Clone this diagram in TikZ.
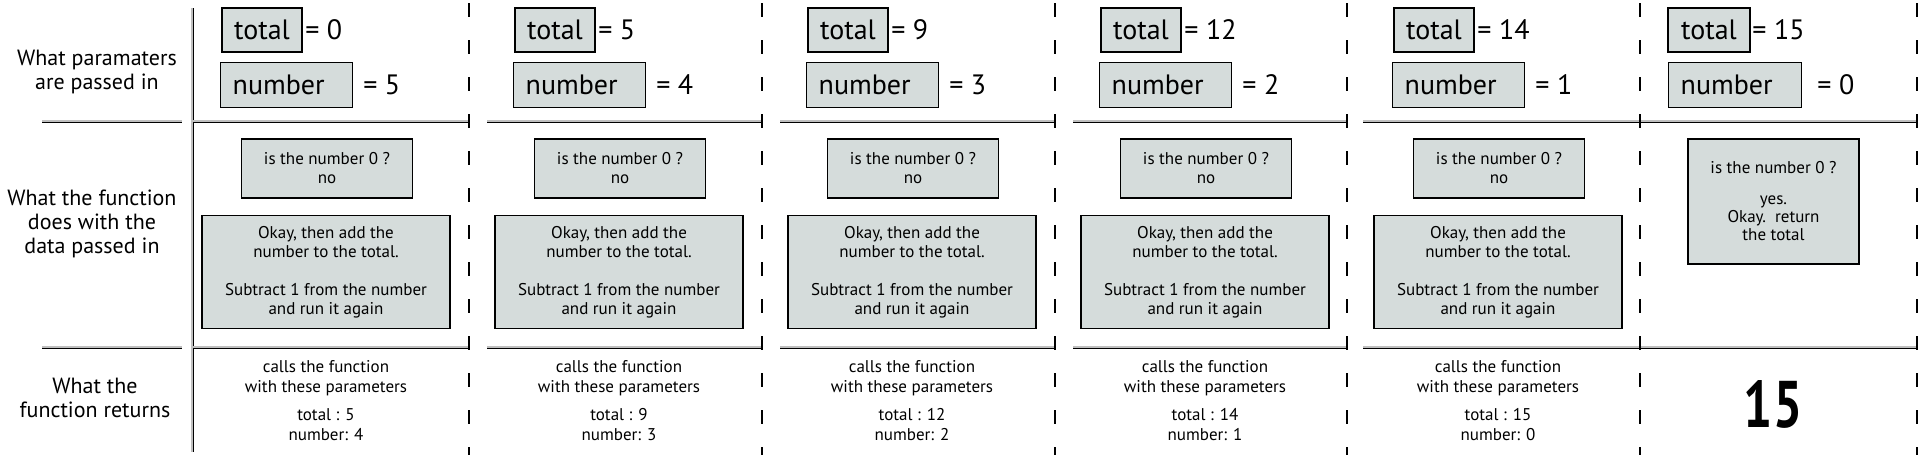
\documentclass[tikz,border=0pt]{standalone}
\usepackage{fontspec}
\setmainfont{PT Sans}
\usepackage[dvipsnames]{xcolor}
\definecolor{boxgray}{RGB}{213,220,219}

\begin{document}
\begin{tikzpicture}[x=1pt,y=-1pt,thick,
    row rule/.style={line width=0.7pt,double=gray!50,double distance=1.6pt},
    col sep/.style={line width=2.2pt,dash pattern=on 14pt off 23pt},
    row label/.style={align=center,font=\fontsize{22}{24}\selectfont},
    param box/.style={draw,line width=1.4pt,fill=boxgray,minimum height=44pt,inner xsep=10pt,font=\fontsize{28}{30}\selectfont},
    param value/.style={anchor=west,inner sep=3pt,font=\fontsize{28}{30}\selectfont},
    check box/.style={draw,line width=1.4pt,fill=boxgray,align=center,minimum width=171pt,minimum height=59pt,font=\fontsize{17}{19}\selectfont},
    work box/.style={draw,line width=1.4pt,fill=boxgray,align=center,minimum width=248pt,minimum height=113pt,font=\fontsize{17}{19}\selectfont},
    call text/.style={align=center,font=\fontsize{17}{20}\selectfont}]
                \useasboundingbox (0,0) rectangle (1920,455);

                % row labels
                \node[row label] (l1) at (97,72) {What paramaters\\are passed in};
                \node[row label] (l2) at (92,224) {What the function\\does with the\\data passed in};
                \node[row label] (l3) at (95,398) {What the\\function returns};

                % column 1
                \node[param box,minimum width=80pt] (t1) at (262,30) {total};
                \node[param value] (tv1) at (302,30) {= 0};
                \node[param box,anchor=west,text width=108pt,inner xsep=12pt,minimum height=45pt] (n1) at (220,85) {number};
                \node[param value] (nv1) at (360,85) {= 5};
                \node[check box] (q1) at (327,168.5) {is the number 0 ?\\no};
                \node[work box] (w1) at (326,272) {Okay, then add the\\number to the total.\\[19pt]Subtract 1 from the number\\and run it again};
                \node[call text] (c1) at (326,401) {calls the function\\with these parameters\\[8pt]total : 5\\number: 4};

                % column 2
                \node[param box,minimum width=80pt] (t2) at (555,30) {total};
                \node[param value] (tv2) at (595,30) {= 5};
                \node[param box,anchor=west,text width=108pt,inner xsep=12pt,minimum height=45pt] (n2) at (513,85) {number};
                \node[param value] (nv2) at (653,85) {= 4};
                \node[check box] (q2) at (620,168.5) {is the number 0 ?\\no};
                \node[work box] (w2) at (619,272) {Okay, then add the\\number to the total.\\[19pt]Subtract 1 from the number\\and run it again};
                \node[call text] (c2) at (619,401) {calls the function\\with these parameters\\[8pt]total : 9\\number: 3};

                % column 3
                \node[param box,minimum width=80pt] (t3) at (848,30) {total};
                \node[param value] (tv3) at (888,30) {= 9};
                \node[param box,anchor=west,text width=108pt,inner xsep=12pt,minimum height=45pt] (n3) at (806,85) {number};
                \node[param value] (nv3) at (946,85) {= 3};
                \node[check box] (q3) at (913,168.5) {is the number 0 ?\\no};
                \node[work box] (w3) at (912,272) {Okay, then add the\\number to the total.\\[19pt]Subtract 1 from the number\\and run it again};
                \node[call text] (c3) at (912,401) {calls the function\\with these parameters\\[8pt]total : 12\\number: 2};

                % column 4
                \node[param box,minimum width=80pt] (t4) at (1141,30) {total};
                \node[param value] (tv4) at (1181,30) {= 12};
                \node[param box,anchor=west,text width=108pt,inner xsep=12pt,minimum height=45pt] (n4) at (1099,85) {number};
                \node[param value] (nv4) at (1239,85) {= 2};
                \node[check box] (q4) at (1206,168.5) {is the number 0 ?\\no};
                \node[work box] (w4) at (1205,272) {Okay, then add the\\number to the total.\\[19pt]Subtract 1 from the number\\and run it again};
                \node[call text] (c4) at (1205,401) {calls the function\\with these parameters\\[8pt]total : 14\\number: 1};

                % column 5
                \node[param box,minimum width=80pt] (t5) at (1434,30) {total};
                \node[param value] (tv5) at (1474,30) {= 14};
                \node[param box,anchor=west,text width=108pt,inner xsep=12pt,minimum height=45pt] (n5) at (1392,85) {number};
                \node[param value] (nv5) at (1532,85) {= 1};
                \node[check box] (q5) at (1499,168.5) {is the number 0 ?\\no};
                \node[work box] (w5) at (1498,272) {Okay, then add the\\number to the total.\\[19pt]Subtract 1 from the number\\and run it again};
                \node[call text] (c5) at (1498,401) {calls the function\\with these parameters\\[8pt]total : 15\\number: 0};

                % column 6
                \node[param box,minimum width=82pt] (t6) at (1709,30) {total};
                \node[param value] (tv6) at (1749,30) {= 15};
                \node[param box,anchor=west,text width=109pt,inner xsep=12pt,minimum height=45pt] (n6) at (1668,85) {number};
                \node[param value] (nv6) at (1814,85) {= 0};
                \node[check box,minimum height=125pt,font=\fontsize{17}{18}\selectfont] (q6) at (1773.5,201.5) {is the number 0 ?\\[13pt]yes.\\Okay.\ \ return\\the total};
                \node[font=\bfseries\fontsize{66}{66}\selectfont] (r6) at (1773,404) {\scalebox{0.78}[1]{15}};

                % rules
                \draw[row rule] (192,8) -- (192,452);
                \draw[row rule] (42,121) -- (182,121);
                \draw[row rule] (42,347) -- (182,347);
                \draw[row rule] (193,121) -- (469,121) (487,121) -- (762,121) (780,121) -- (1055,121) (1073,121) -- (1347,121) (1363,121) -- (1917,121);
                \draw[row rule] (193,347) -- (469,347) (487,347) -- (762,347) (780,347) -- (1055,347) (1073,347) -- (1347,347) (1363,347) -- (1917,347);
                \draw[col sep] (469,3) -- (469,455) (762,3) -- (762,455) (1055,3) -- (1055,455) (1347,3) -- (1347,455) (1640,3) -- (1640,455) (1917,3) -- (1917,455);
            \end{tikzpicture}
\end{document}
